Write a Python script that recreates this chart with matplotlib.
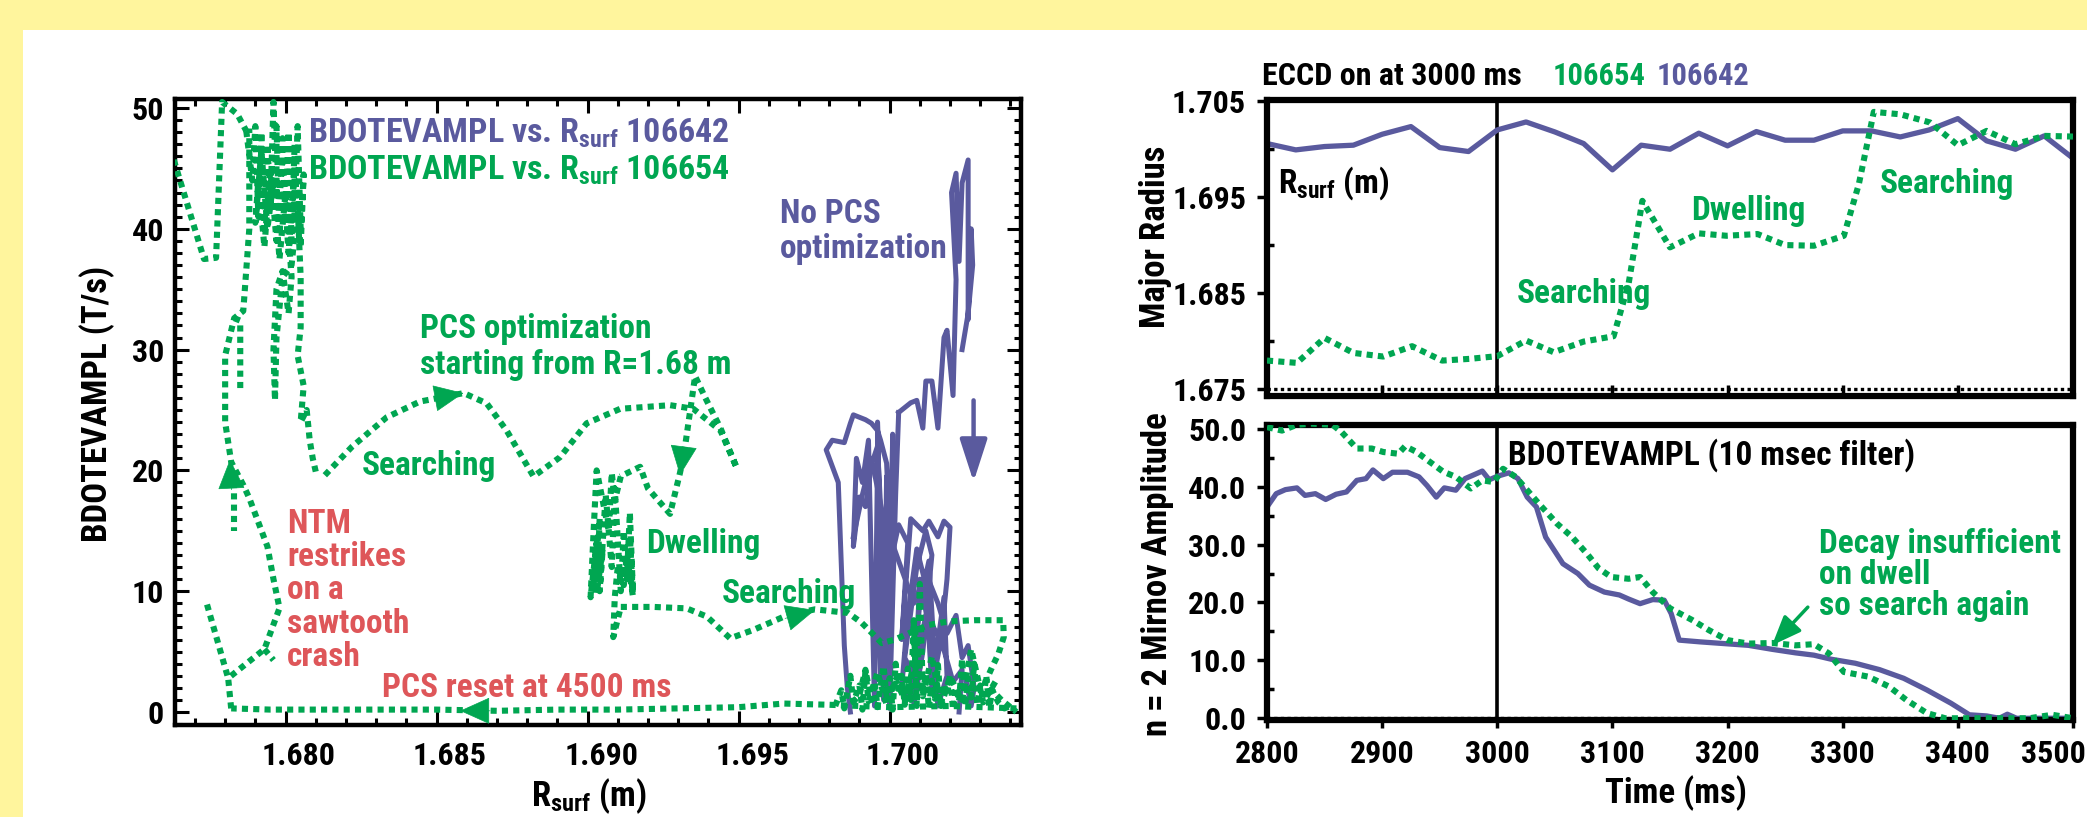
import matplotlib
matplotlib.use("Agg")
import matplotlib.pyplot as plt
from matplotlib import font_manager as fm
from matplotlib.patches import Rectangle
from matplotlib.ticker import MultipleLocator, FixedLocator, FormatStrFormatter, NullFormatter
import matplotlib.transforms as mtransforms

# ====================== DATA ======================
# ---- Left panel: shot 106654 (green dotted) BDOTEVAMPL vs R_surf ----
g_hook_R = [1.6763, 1.6773, 1.6777, 1.6779, 1.6784, 1.6787]
g_hook_B = [45.7, 37.5, 37.6, 50.5, 49.5, 48.1]

g_blob_R = [1.6787, 1.6789, 1.6790, 1.6791, 1.6792, 1.6793, 1.6794, 1.6795, 1.6796, 1.6797,
            1.6797, 1.6798, 1.6799, 1.6800, 1.6801, 1.6802, 1.6803, 1.6803, 1.6804, 1.6805,
            1.6806, 1.6805, 1.6803, 1.6801, 1.6799, 1.6797, 1.6795, 1.6793, 1.6791, 1.6790,
            1.6792, 1.6794, 1.6796, 1.6798, 1.6800, 1.6802, 1.6801, 1.6799, 1.6797, 1.6796,
            1.67965, 1.6797, 1.6799, 1.6802, 1.6804, 1.6805, 1.6805, 1.6804, 1.6806, 1.6805,
            1.6807, 1.6808, 1.6809, 1.6810]
g_blob_B = [48.1, 44.0, 48.5, 41.0, 48.0, 40.0, 47.0, 42.0, 50.5, 43.0,
            48.5, 39.5, 47.5, 40.5, 48.0, 39.0, 47.0, 41.0, 48.5, 40.0,
            44.5, 38.5, 45.0, 38.0, 46.0, 39.0, 45.0, 38.5, 44.0, 40.5,
            46.5, 40.0, 44.0, 37.5, 43.0, 36.0, 33.0, 36.5, 35.0, 30.0,
            25.8, 31.0, 36.0, 37.0, 42.0, 36.0, 31.8, 29.5, 27.0, 24.0,
            25.0, 22.5, 21.0, 19.9]

g_search_R = [1.6813, 1.6822, 1.68335, 1.68445, 1.6859, 1.68666, 1.68732, 1.68821, 1.68909, 1.68997,
              1.69108, 1.69273, 1.6935, 1.6944, 1.69494, 1.6944, 1.6939, 1.69356, 1.6934, 1.6932,
              1.69306, 1.69273, 1.6920, 1.69174, 1.69108]
g_search_B = [19.6, 21.96, 24.4, 25.7, 26.4, 25.55, 23.3, 19.5, 21.1, 23.9,
              25.1, 25.4, 25.1, 23.3, 20.2, 23.5, 26.0, 27.8, 25.0, 21.5,
              19.8, 16.4, 18.5, 20.3, 19.5]

g_dwell_R = [1.6911, 1.6909, 1.6908, 1.6907, 1.6903, 1.6902, 1.6901, 1.6903, 1.6902, 1.6904,
             1.6903, 1.6905, 1.6904, 1.6906, 1.6908, 1.6909, 1.6911, 1.6912, 1.6913, 1.6914,
             1.6915, 1.6914, 1.6915, 1.6913, 1.6912, 1.6910, 1.6909, 1.69085, 1.6911]
g_dwell_B = [19.5, 17.5, 19.8, 15.0, 20.0, 15.0, 9.5, 14.0, 10.5, 16.0,
             9.8, 13.5, 10.0, 18.0, 12.0, 18.5, 10.0, 15.0, 11.0, 16.5,
             10.0, 14.5, 9.6, 13.0, 10.5, 12.0, 9.5, 6.2, 8.7]

g_search2_R = [1.6911, 1.69218, 1.69328, 1.69395, 1.69472, 1.69549, 1.6966, 1.69753, 1.69863, 1.69907,
               1.69951, 1.69974, 1.70018, 1.70062, 1.70128, 1.70194, 1.70282, 1.70376, 1.70378, 1.7036,
               1.70339, 1.70316, 1.7037, 1.7042]
g_search2_B = [8.7, 8.7, 8.58, 7.9, 6.1, 6.8, 8.0, 8.5, 8.2, 7.4,
               6.3, 5.7, 6.0, 6.5, 7.2, 7.5, 7.6, 7.6, 6.2, 4.8,
               3.7, 2.4, 1.0, 0.0]

g_low_R = [1.6982, 1.6984, 1.6985, 1.6987, 1.6988, 1.6990, 1.6991, 1.6992, 1.6994, 1.6995,
           1.6996, 1.6998, 1.6999, 1.7000, 1.7001, 1.7002, 1.7003, 1.7004, 1.7005, 1.7006,
           1.7007, 1.7008, 1.7009, 1.7010, 1.7011, 1.7012, 1.7013, 1.7014, 1.7015, 1.7016,
           1.7017, 1.7018, 1.7019, 1.7020, 1.7021, 1.7022, 1.7023, 1.7024, 1.7025, 1.7026,
           1.7027, 1.7028, 1.7029, 1.7030, 1.7031, 1.7032, 1.7033, 1.7034, 1.7036, 1.7038, 1.7040]
g_low_B = [0.5, 1.8, 0.3, 3.0, 0.8, 2.2, 0.2, 3.4, 1.0, 2.5,
           0.4, 3.8, 1.2, 2.8, 0.2, 4.0, 1.5, 3.0, 0.6, 3.6,
           1.0, 7.5, 0.5, 10.6, 1.5, 3.2, 0.3, 2.6, 1.1, 3.9,
           0.4, 2.3, 1.4, 3.1, 0.2, 2.0, 0.9, 4.4, 0.5, 2.8,
           1.2, 4.0, 0.6, 2.2, 1.0, 3.0, 0.4, 1.8, 0.8, 0.3, 0.5]
g_low2_R = [1.7035, 1.7031, 1.7027, 1.7024, 1.7020, 1.7017, 1.7014, 1.7011, 1.7008, 1.70081,
            1.7005, 1.7002, 1.6999, 1.6996, 1.6993, 1.6992, 1.6990, 1.6987]
g_low2_B = [2.5, 0.8, 5.2, 1.0, 2.9, 0.5, 4.6, 1.3, 7.6, 3.9,
            1.0, 2.7, 0.6, 3.3, 0.9, 3.5, 1.4, 0.6]

g_reset_R = [1.7042, 1.7020, 1.7000, 1.6980, 1.6965, 1.6950, 1.6930, 1.6910, 1.6890, 1.6870,
             1.6850, 1.6830, 1.6810, 1.6795, 1.6782]
g_reset_B = [0.3, 0.5, 0.4, 0.6, 0.7, 0.4, 0.3, 0.2, 0.2, 0.1, 0.2, 0.2, 0.2, 0.2, 0.3]

g_restrike_R = [1.6782, 1.6781, 1.6793, 1.6798, 1.6796, 1.6794, 1.6788, 1.6786, 1.6782, 1.6780,
                1.6780, 1.6783, 1.6786, 1.6788, 1.6788]
g_restrike_B = [0.3, 2.8, 5.2, 8.6, 11.0, 13.7, 17.7, 18.8, 20.7, 24.0,
                29.5, 32.6, 33.2, 40.0, 48.3]

g_stub1_R = [1.6774, 1.6781]
g_stub1_B = [8.9, 2.8]
g_stub2_R = [1.6793, 1.6796]
g_stub2_B = [5.2, 4.3]
g_stub3_R = [1.6783, 1.6783]
g_stub3_B = [19.0, 15.0]
g_stub4_R = [1.6783, 1.6785, 1.6785]
g_stub4_B = [32.6, 32.4, 26.8]

# ---- Left panel: shot 106642 (purple solid) ----
p1_R = [1.6987, 1.6986, 1.6985, 1.6983, 1.6979, 1.6981, 1.6985, 1.6987, 1.6988, 1.6992,
        1.6994, 1.6996, 1.6997, 1.6999, 1.7000, 1.69995, 1.6998, 1.6996, 1.6994, 1.6992,
        1.6990, 1.6988, 1.6989, 1.6991, 1.6993, 1.6995, 1.6996, 1.6997, 1.6996, 1.6998,
        1.6999, 1.7000, 1.7001, 1.7000, 1.7002, 1.7003]
p1_B = [0.0, 2.0, 5.5, 19.0, 21.7, 22.5, 22.3, 23.9, 24.6, 24.2,
        23.9, 23.3, 22.5, 20.6, 15.0, 1.3, 12.0, 22.0, 20.5, 17.0,
        17.8, 13.7, 21.0, 19.0, 22.5, 0.5, 21.0, 3.0, 24.0, 1.0,
        19.5, 2.5, 23.0, 0.3, 18.0, 24.8]
p2_R = [1.7003, 1.7007, 1.7009, 1.7011, 1.7012, 1.7014, 1.7016, 1.7018, 1.7019, 1.7021,
        1.7022, 1.70205, 1.7022, 1.7023, 1.7024, 1.7026, 1.7026, 1.7027, 1.70275, 1.7026, 1.7024]
p2_B = [24.8, 25.6, 25.8, 23.5, 27.4, 27.4, 23.5, 31.0, 31.6, 26.2,
        35.8, 43.0, 44.6, 37.3, 43.8, 45.7, 32.5, 40.0, 37.0, 33.0, 30.0]
p3_R = [1.7000, 1.7003, 1.7006, 1.7004, 1.7007, 1.7011, 1.7013, 1.7016, 1.7018, 1.7020,
        1.7019, 1.7017, 1.7014, 1.7012, 1.7009, 1.7006, 1.7004, 1.7007, 1.7010, 1.7013,
        1.7015, 1.7018, 1.7019, 1.7016, 1.7013, 1.7010, 1.7008, 1.7011, 1.7014, 1.7012,
        1.7009, 1.7005, 1.7008, 1.7012, 1.7017, 1.7021, 1.7024, 1.7023]
p3_B = [12.0, 15.5, 14.0, 6.0, 16.0, 15.0, 15.8, 14.5, 15.8, 15.3,
        11.0, 6.0, 2.0, 10.5, 13.5, 8.0, 2.0, 1.0, 9.0, 12.5,
        4.0, 9.5, 3.0, 0.5, 7.0, 11.0, 0.5, 5.0, 13.0, 15.0,
        12.0, 4.5, 3.0, 8.0, 6.0, 2.5, 3.5, 0.0]
p4_R = [1.6988, 1.6991, 1.6994, 1.6998, 1.7003, 1.7008, 1.7012, 1.7016, 1.7019, 1.7022,
        1.7024, 1.7026, 1.7028, 1.7027, 1.7025]
p4_B = [14.5, 18.0, 21.0, 16.0, 12.5, 9.0, 11.5, 9.0, 6.5, 8.0,
        4.5, 5.5, 2.0, 0.5, 3.0]

# arrow annotations (tip, tail) in data units
g_arrow_tips = [(1.68589, 26.4), (1.69306, 19.6), (1.69753, 8.44), (1.67816, 20.9), (1.68578, 0.1)]
g_arrow_tails = [(1.68495, 25.97), (1.69317, 21.7), (1.69654, 7.75), (1.67821, 18.4), (1.68677, 0.1)]
p_arrow_tip = (1.70278, 19.06)
p_arrow_tail = (1.70278, 25.8)

# ---- Right top panel: R_surf vs time ----
t_p_top = [2800, 2825, 2850, 2875, 2900, 2925, 2950, 2975, 3000, 3025, 3050, 3075, 3100, 3125,
           3150, 3175, 3200, 3225, 3250, 3275, 3300, 3325, 3350, 3375, 3400, 3425, 3450, 3475, 3500]
R_p_top = [1.70056, 1.69990, 1.70025, 1.70039, 1.70153, 1.70233, 1.70014, 1.69973, 1.70198, 1.70281,
           1.70177, 1.70056, 1.69782, 1.70039, 1.69997, 1.70164, 1.70032, 1.70181, 1.70091, 1.70091,
           1.70188, 1.70188, 1.70125, 1.70198, 1.70316, 1.70084, 1.69997, 1.70136, 1.69903]
t_g_top = [2800, 2826, 2850, 2875, 2901, 2926, 2952, 2976, 3000, 3025, 3049, 3075, 3101, 3114,
           3126, 3150, 3175, 3199, 3226, 3250, 3275, 3301, 3314, 3327, 3350, 3376, 3400, 3425,
           3450, 3475, 3500]
R_g_top = [1.67794, 1.67770, 1.68030, 1.67874, 1.67836, 1.67944, 1.67794, 1.67812, 1.67840, 1.68003,
           1.67881, 1.67992, 1.68048, 1.68592, 1.69459, 1.68974, 1.69120, 1.69095, 1.69113, 1.68998,
           1.68991, 1.69095, 1.69633, 1.70386, 1.70361, 1.70275, 1.70039, 1.70188, 1.70049, 1.70136,
           1.70129]

# ---- Right bottom panel: n=2 Mirnov amplitude vs time ----
t_p_bot = [2800, 2808, 2816, 2826, 2833, 2842, 2851, 2860, 2869, 2878, 2886, 2892, 2901, 2909,
           2922, 2932, 2939, 2947, 2954, 2964, 2972, 2979, 2987, 2993, 3000, 3010, 3018, 3026,
           3034, 3042, 3057, 3070, 3080, 3093, 3106, 3114, 3124, 3135, 3145, 3151, 3158, 3176,
           3197, 3218, 3239, 3259, 3275, 3290, 3311, 3332, 3353, 3373, 3394, 3410, 3425, 3436,
           3443, 3451, 3477, 3500]
A_p_bot = [36.5, 38.8, 39.5, 39.8, 38.5, 38.8, 37.8, 38.7, 39.1, 41.1, 41.4, 42.9, 41.4, 42.5,
           42.5, 41.7, 40.2, 38.2, 39.8, 39.4, 41.4, 42.0, 42.7, 41.2, 41.8, 42.4, 41.4, 38.2,
           36.5, 31.3, 26.7, 25.0, 23.0, 21.8, 21.3, 20.6, 19.8, 20.5, 20.4, 18.1, 13.5, 13.2,
           12.9, 12.6, 11.9, 11.3, 10.9, 10.2, 9.5, 8.4, 6.9, 4.9, 2.6, 0.6, 0.4, 0.0,
           0.7, 0.0, 0.0, 0.0]
t_g_bot = [2800, 2813, 2826, 2839, 2857, 2865, 2878, 2891, 2901, 2914, 2920, 2930, 2940, 2953,
           2964, 2977, 2987, 2997, 3005, 3016, 3026, 3036, 3052, 3065, 3078, 3088, 3099, 3114,
           3124, 3135, 3150, 3169, 3184, 3200, 3218, 3239, 3259, 3275, 3288, 3301, 3322, 3340,
           3355, 3373, 3389, 3425, 3462, 3482, 3500]
A_g_bot = [50.3, 49.7, 50.7, 50.9, 50.7, 49.4, 46.6, 46.6, 46.0, 45.7, 47.0, 46.0, 44.5, 42.6,
           41.7, 39.7, 41.1, 40.8, 43.1, 41.7, 39.4, 37.1, 33.6, 31.3, 28.4, 25.9, 24.4, 24.1,
           24.4, 21.8, 19.0, 17.0, 15.2, 13.5, 12.9, 13.0, 12.6, 12.8, 11.2, 8.0, 7.2, 5.5,
           3.2, 0.9, 0.0, 0.0, 0.0, 0.6, 0.0]
bot_arrow_tip = (3238.6, 12.6)
bot_arrow_tail = (3269.7, 19.2)
time_ticks = [2800, 2900, 3000, 3100, 3200, 3300, 3400, 3500]

# ====================== STYLE ======================
YELLOW = "#FFF59D"
GREEN = "#00A651"
PURPLE = "#5A5A9E"
RED = "#DE5659"
DOT = (0, (1.0, 0.85))
GLW = 4.4

names = {f.name for f in fm.fontManager.ttflist}
FONT = next((c for c in ["Liberation Sans Narrow", "Roboto Condensed", "DejaVu Sans"] if c in names),
            "DejaVu Sans")
plt.rcParams["font.family"] = [FONT, "DejaVu Sans"]
plt.rcParams["font.weight"] = "bold"
plt.rcParams["axes.unicode_minus"] = False

W, H = 2087, 817
fig = plt.figure(figsize=(W / 100, H / 100), dpi=100)
fig.patch.set_facecolor(YELLOW)
fig.add_artist(Rectangle((23 / W, 0), 1, 1 - 30 / H, transform=fig.transFigure,
                         facecolor="white", edgecolor="none", zorder=-5))


def fxp(px):
    return px / W


def fyp(py):
    return 1 - py / H


def ftext(px, py, s, color="black", size=24, **kw):
    kw.setdefault("ha", "left")
    kw.setdefault("va", "baseline")
    fig.text(fxp(px), fyp(py), s, color=color, fontsize=size, fontweight="bold", **kw)


RS = r"$\mathregular{R_{surf}}$"

# ====================== LEFT PANEL ======================
ax1 = fig.add_axes([fxp(175), fyp(724.7), (1021 - 175) / W, (724.7 - 98.7) / H])
ax1.set_xlim(1.67634, 1.70435)
ax1.set_ylim(-1.05, 50.77)

for R, B in [(p1_R, p1_B), (p2_R, p2_B), (p3_R, p3_B), (p4_R, p4_B)]:
    ax1.plot(R, B, color=PURPLE, lw=3.6, zorder=2, solid_joinstyle="round")

for R, B in [(g_hook_R, g_hook_B), (g_blob_R, g_blob_B), (g_search_R, g_search_B),
             (g_dwell_R, g_dwell_B), (g_search2_R, g_search2_B), (g_low_R, g_low_B),
             (g_low2_R, g_low2_B), (g_reset_R, g_reset_B), (g_restrike_R, g_restrike_B),
             (g_stub1_R, g_stub1_B), (g_stub2_R, g_stub2_B), (g_stub3_R, g_stub3_B),
             (g_stub4_R, g_stub4_B)]:
    ax1.plot(R, B, color=GREEN, lw=GLW, linestyle=DOT, zorder=3)

for tip, tail in zip(g_arrow_tips, g_arrow_tails):
    ax1.annotate("", xy=tip, xytext=tail,
                 arrowprops=dict(arrowstyle="-|>,head_length=1.0,head_width=0.45",
                                 mutation_scale=20, fc=GREEN, ec=GREEN, lw=0.5,
                                 shrinkA=0, shrinkB=0), zorder=4)
ax1.annotate("", xy=p_arrow_tip, xytext=p_arrow_tail,
             arrowprops=dict(arrowstyle="-|>,head_length=1.3,head_width=0.42",
                             mutation_scale=20, fc=PURPLE, ec=PURPLE, lw=3.2,
                             shrinkA=0, shrinkB=0), zorder=4)

ax1.xaxis.set_major_locator(FixedLocator([1.680, 1.685, 1.690, 1.695, 1.700]))
ax1.xaxis.set_minor_locator(MultipleLocator(0.001))
ax1.xaxis.set_major_formatter(NullFormatter())
ax1.yaxis.set_major_locator(MultipleLocator(10))
ax1.yaxis.set_minor_locator(MultipleLocator(1))
ax1.tick_params(which="both", direction="in", top=True, right=True, width=2.2, labelsize=23)
ax1.tick_params(which="major", length=10)
ax1.tick_params(which="minor", length=5)
ax1.tick_params(axis="y", pad=8)
for s in ax1.spines.values():
    s.set_linewidth(3.2)

off = mtransforms.ScaledTranslation(13.5 / 100, 0, fig.dpi_scale_trans)
for v in [1.680, 1.685, 1.690, 1.695, 1.700]:
    ax1.text(v, (724.7 - 765) / 626, f"{v:.3f}", transform=ax1.get_xaxis_transform() + off,
             ha="center", va="baseline", fontsize=23, fontweight="bold", clip_on=False)

ftext(97, 404, "BDOTEVAMPL (T/s)", size=25, rotation=90, ha="center", va="center")
ftext(589, 806, RS + " (m)", size=25, ha="center")

ftext(308, 143, "BDOTEVAMPL vs. " + RS + " 106642", color=PURPLE, size=24.5)
ftext(308, 180, "BDOTEVAMPL vs. " + RS + " 106654", color=GREEN, size=24.5)
ftext(780, 223, "No PCS", color=PURPLE)
ftext(780, 258, "optimization", color=PURPLE)
ftext(420, 338, "PCS optimization", color=GREEN)
ftext(420, 374, "starting from R=1.68 m", color=GREEN)
ftext(362, 475, "Searching", color=GREEN)
ftext(646, 553, "Dwelling", color=GREEN)
ftext(722, 603, "Searching", color=GREEN)
for i, line in enumerate(["NTM", "restrikes", "on a", "sawtooth", "crash"]):
    ftext(287, 532.6 + 33.4 * i, line, color=RED)
ftext(382, 697, "PCS reset at 4500 ms", color=RED)

# ====================== RIGHT TOP PANEL ======================
ax2 = fig.add_axes([fxp(1267), fyp(395.5), (2073 - 1267) / W, (395.5 - 100) / H])
ax2.set_xlim(2800, 3500)
ax2.set_ylim(1.6743, 1.7051)
ax2.plot(t_p_top, R_p_top, color=PURPLE, lw=3.8, zorder=2)
ax2.plot(t_g_top, R_g_top, color=GREEN, lw=GLW, linestyle=DOT, zorder=3)
ax2.axvline(3000, color="black", lw=2.6, zorder=1)
ax2.axhline(1.675, color="black", lw=2.4, linestyle=(0, (1, 1)), zorder=1)
ax2.xaxis.set_major_locator(FixedLocator(time_ticks))
ax2.xaxis.set_major_formatter(NullFormatter())
ax2.yaxis.set_major_locator(FixedLocator([1.675, 1.685, 1.695, 1.705]))
ax2.yaxis.set_minor_locator(FixedLocator([1.680, 1.690, 1.700]))
ax2.yaxis.set_major_formatter(FormatStrFormatter("%.3f"))
ax2.tick_params(axis="x", which="major", direction="in", length=8, width=2.5)
ax2.tick_params(axis="y", which="major", direction="out", length=7, width=2.5, pad=8, labelsize=23)
ax2.tick_params(axis="y", which="minor", direction="in", length=5, width=2.5)
for s in ax2.spines.values():
    s.set_linewidth(4.5)

ftext(1262, 85, "ECCD on at 3000 ms", size=23)
ftext(1553, 85, "106654", color=GREEN, size=22)
ftext(1657, 85, "106642", color=PURPLE, size=22)
ftext(1278, 193, RS + " (m)", size=24)
ftext(1517, 303, "Searching", color=GREEN)
ftext(1691, 220, "Dwelling", color=GREEN)
ftext(1880, 193, "Searching", color=GREEN)
ftext(1156, 237, "Major Radius", size=25, rotation=90, ha="center", va="center")

# ====================== RIGHT BOTTOM PANEL ======================
ax3 = fig.add_axes([fxp(1267), fyp(720), (2073 - 1267) / W, (720 - 424.5) / H])
ax3.set_xlim(2800, 3500)
ax3.set_ylim(-0.3, 50.75)
ax3.plot(t_p_bot, A_p_bot, color=PURPLE, lw=3.8, zorder=2)
ax3.plot(t_g_bot, A_g_bot, color=GREEN, lw=GLW, linestyle=DOT, zorder=3)
ax3.axvline(3000, color="black", lw=2.6, zorder=1)
ax3.axhline(0, color="black", lw=2.4, linestyle=(0, (1, 1)), zorder=1)
ax3.annotate("", xy=bot_arrow_tip, xytext=bot_arrow_tail,
             arrowprops=dict(arrowstyle="-|>,head_length=1.0,head_width=0.4",
                             mutation_scale=18, fc=GREEN, ec=GREEN, lw=2.5,
                             shrinkA=0, shrinkB=0), zorder=4)
ax3.xaxis.set_major_locator(FixedLocator(time_ticks))
ax3.xaxis.set_major_formatter(NullFormatter())
ax3.yaxis.set_major_locator(MultipleLocator(10))
ax3.yaxis.set_minor_locator(MultipleLocator(5))
ax3.yaxis.set_major_formatter(FormatStrFormatter("%.1f"))
ax3.tick_params(axis="x", which="major", direction="out", length=6, width=2.5)
ax3.tick_params(axis="y", which="major", direction="out", length=7, width=2.5, pad=8, labelsize=23)
ax3.tick_params(axis="y", which="minor", direction="in", length=5, width=2.5)
for s in ax3.spines.values():
    s.set_linewidth(4.5)

xtr = ax3.get_xaxis_transform()
for v in time_ticks:
    if v == time_ticks[-1]:
        # last label kept inside the figure's right edge
        fig.text(fxp(2086), fyp(763), f"{v}", ha="right", va="baseline", fontsize=23,
                 fontweight="bold")
    else:
        ax3.text(v, (720 - 763) / 295.5, f"{v}", transform=xtr, ha="center", va="baseline",
                 fontsize=23, fontweight="bold", clip_on=False)

ftext(1508, 465, "BDOTEVAMPL (10 msec filter)", size=24)
ftext(1819, 553, "Decay insufficient", color=GREEN)
ftext(1819, 584, "on dwell", color=GREEN)
ftext(1819, 615, "so search again", color=GREEN)
ftext(1158, 574, "n = 2 Mirnov Amplitude", size=25, rotation=90, ha="center", va="center")
ftext(1676, 803, "Time (ms)", size=25, ha="center")

fig.savefig("out.png", dpi=100, facecolor=fig.get_facecolor())
